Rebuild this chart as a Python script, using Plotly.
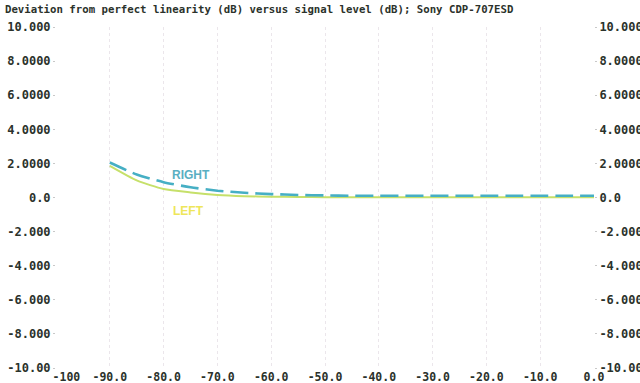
import plotly.graph_objects as go

# Signal level (dB)
level_db = [-90, -85, -80, -75, -70, -65, -60, -55, -50, -45, -40, -35, -30, -25, -20, -15, -10, -5, 0]
# Deviation from perfect linearity (dB)
right_dev = [2.05, 1.35, 0.90, 0.60, 0.40, 0.28, 0.20, 0.15, 0.12, 0.10, 0.10, 0.10, 0.10, 0.10, 0.10, 0.10, 0.10, 0.10, 0.10]
left_dev = [1.85, 1.00, 0.50, 0.30, 0.15, 0.08, 0.05, 0.03, 0.02, 0.02, 0.02, 0.02, 0.02, 0.02, 0.02, 0.02, 0.02, 0.02, 0.02]

x_tickvals = [-100, -90, -80, -70, -60, -50, -40, -30, -20, -10, 0]
x_ticktext = ["\u00a0\u00a0\u00a0-100", "-90.0", "-80.0", "-70.0", "-60.0", "-50.0", "-40.0", "-30.0", "-20.0", "-10.0", "0.0"]
y_tickvals = [10, 8, 6, 4, 2, 0, -2, -4, -6, -8, -10]
y_ticktext = ["10.000", "8.0000", "6.0000", "4.0000", "2.0000", "0.0", "-2.000", "-4.000", "-6.000", "-8.000", "-10.00"]

title_text = "Deviation from perfect linearity (dB) versus signal level (dB); Sony CDP-707ESD"

mono = "DejaVu Sans Mono"
ink = "#2b322b"


def bold(labels):
    return ["<b>" + t + "</b>" for t in labels]


fig = go.Figure()

fig.add_trace(go.Scatter(
    x=level_db, y=left_dev, mode="lines", name="LEFT",
    line=dict(color="#c6e06a", width=2, shape="spline", smoothing=0.6),
    showlegend=False,
))
fig.add_trace(go.Scatter(
    x=level_db, y=right_dev, mode="lines", name="RIGHT",
    line=dict(color="#46afc4", width=2.6, dash="18px,7px", shape="spline", smoothing=0.6),
    showlegend=False,
))
# invisible trace to anchor right-hand axis
fig.add_trace(go.Scatter(
    x=[level_db[0]], y=[right_dev[0]], yaxis="y2", mode="markers",
    marker=dict(opacity=0), showlegend=False, hoverinfo="skip",
))

fig.add_annotation(x=-75, y=1.34, text="<b>RIGHT</b>", showarrow=False,
                   font=dict(family="Liberation Sans", size=12, color="#5aafc2"))
fig.add_annotation(x=-75.3, y=-0.81, text="<b>LEFT</b>", showarrow=False,
                   font=dict(family="Liberation Sans", size=12, color="#eee65a"))

fig.update_layout(
    width=640, height=383,
    margin=dict(l=56, r=46, t=27, b=15),
    paper_bgcolor="white", plot_bgcolor="white",
    title=dict(text="<b>" + title_text + "</b>", x=5 / 640, xanchor="left",
               y=1 - 9 / 383, yanchor="middle", xref="container", yref="container",
               font=dict(family=mono, size=10.7, color=ink)),
    xaxis=dict(range=[-100, 0], tickvals=x_tickvals, ticktext=bold(x_ticktext),
               showgrid=True, gridcolor="#ebe6eb", griddash="dot", gridwidth=1,
               zeroline=False, showline=False, ticks="", automargin=False,
               tickfont=dict(family=mono, size=11.5, color=ink)),
    yaxis=dict(range=[-10, 10], tickvals=y_tickvals, ticktext=bold(y_ticktext),
               showgrid=False, zeroline=False, showline=False,
               ticks="outside", ticklen=2, tickcolor="#c8c8c8", automargin=False,
               tickfont=dict(family=mono, size=12, color=ink)),
    yaxis2=dict(range=[-10, 10], tickvals=y_tickvals, ticktext=bold(y_ticktext),
                overlaying="y", side="right", showgrid=False, zeroline=False,
                showline=False, ticks="outside", ticklen=2, tickcolor="#c8c8c8",
                automargin=False,
                tickfont=dict(family=mono, size=12, color=ink)),
)

fig.write_html(
    "out.html",
    config={"displayModeBar": False},
    post_script="document.body.style.margin='0';document.body.style.overflow='hidden';",
)
